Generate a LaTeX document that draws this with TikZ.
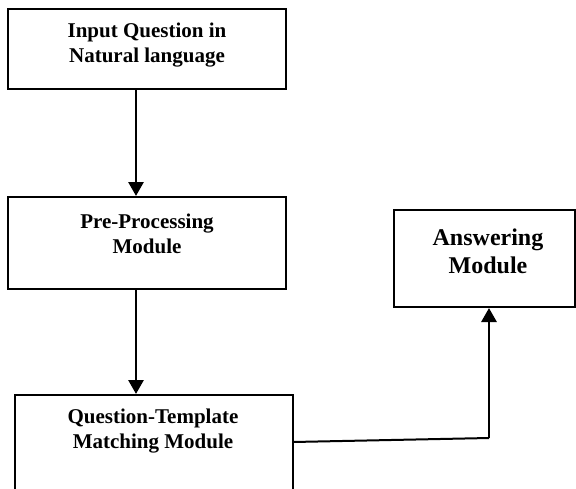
\documentclass[tikz,border=0pt]{standalone}
\usepackage{fontspec}
\setmainfont{Liberation Serif}
\usetikzlibrary{arrows.meta}
\begin{document}
\begin{tikzpicture}[x=1pt,y=-1pt,
  box/.style={draw,line width=2pt,rectangle,inner sep=0pt},
  lbl/.style={align=center,font=\bfseries\fontsize{21}{25}\selectfont,inner sep=0pt},
  biglbl/.style={align=center,font=\bfseries\fontsize{24}{28}\selectfont,inner sep=0pt},
  arr/.style={line width=2.8pt,-{Triangle[width=15pt,length=14pt]}}]
\useasboundingbox (0,0) rectangle (576,488);
\node[box,minimum width=278pt,minimum height=80pt] (b1) at (147,49) {};
\node[lbl] (t1) at (147,45.5) {Input Question in\\Natural language};
\node[box,minimum width=278pt,minimum height=92pt] (b2) at (147,243) {};
\node[lbl] (t2) at (147,233.5) {Pre-Processing\\Module};
\node[box,minimum width=278pt,minimum height=95pt] (b3) at (154,442.5) {};
\node[lbl] (t3) at (153,431) {Question-Template\\Matching Module};
\node[box,minimum width=181pt,minimum height=97pt] (b4) at (484.5,258.5) {};
\node[biglbl] (t4) at (488,251) {Answering\\Module};
\coordinate (c1) at (136,0);
\coordinate (c2) at (489,0);
\coordinate (k1) at (293,442);
\coordinate (k2) at (489,438);
\draw[arr] (b1.south -| c1) -- (b2.north -| c1);
\draw[arr] (b2.south -| c1) -- (b3.north -| c1);
\draw[line width=2pt] (k1) -- (k2);
\draw[arr] (k2) -- (b4.south -| c2);
\end{tikzpicture}
\end{document}
